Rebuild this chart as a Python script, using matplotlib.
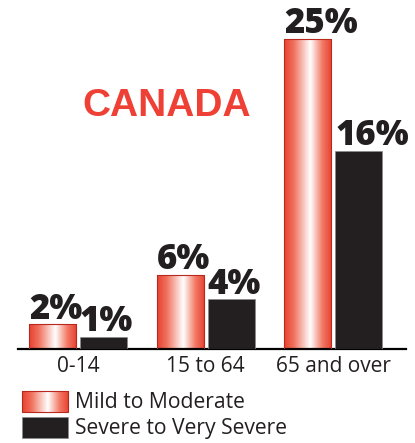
import numpy as np
import matplotlib
matplotlib.use("Agg")
import matplotlib.pyplot as plt
from matplotlib.colors import LinearSegmentedColormap
from matplotlib.patches import Rectangle

# Data
age_groups = ["0-14", "15 to 64", "65 and over"]
mild_to_moderate = [2, 6, 25]
severe_to_very_severe = [1, 4, 16]
series_names = ["Mild to Moderate", "Severe to Very Severe"]
title_text = "CANADA"

W, H = 415, 443
fig = plt.figure(figsize=(W / 100, H / 100), dpi=100)

RED = "#e8402f"
DARK = "#231f20"
grad_cmap = LinearSegmentedColormap.from_list(
    "shine", [(0.0, RED), (0.2, "#f0705c"), (0.55, "#ffffff"), (0.8, "#f27a66"), (1.0, RED)]
)
gradient = np.linspace(0, 1, 256).reshape(1, -1)

# Main axes in figure fractions
ax_left, ax_right = 18 / W, 406 / W
ax_bottom = (H - 349) / H
ax = fig.add_axes([ax_left, ax_bottom, ax_right - ax_left, 1 - ax_bottom])
XLIM = (-0.47, 2.57)
YLIM = (0, 25 * 349 / 310)

x = np.arange(len(age_groups))
width = 0.369
offset = 0.2

mild_bars = ax.bar(x - offset, mild_to_moderate, width, facecolor="none",
                   edgecolor="#b8281c", linewidth=0.8, zorder=3)
sev_bars = ax.bar(x + offset, severe_to_very_severe, width, color=DARK,
                  edgecolor="#8a8a8a", linewidth=0.5, zorder=3)

# Shiny gradient fill clipped to each mild bar
for bar in mild_bars:
    bx, by = bar.get_x(), bar.get_y()
    bw, bh = bar.get_width(), bar.get_height()
    im = ax.imshow(gradient, cmap=grad_cmap, aspect="auto",
                   extent=[bx, bx + bw, by, by + bh], zorder=2,
                   interpolation="bicubic")
    im.set_clip_path(bar)
ax.set_xlim(*XLIM)
ax.set_ylim(*YLIM)

# Value labels sit above each bar, starting near its left edge
label_font = dict(family=["Open Sans", "DejaVu Sans"], fontweight=800,
                  fontsize=25, color=DARK)
for bars, vals in ((mild_bars, mild_to_moderate), (sev_bars, severe_to_very_severe)):
    for bar, v in zip(bars, vals):
        ax.annotate(f"{v}%", (bar.get_x(), v),
                    xytext=(0, -2.5), textcoords="offset points",
                    ha="left", va="bottom", zorder=4, **label_font)

ax.set_xticks(x)
ax.set_xticklabels(age_groups, family=["Open Sans", "DejaVu Sans"],
                   fontsize=15, color=DARK)
ax.tick_params(axis="x", length=0, pad=5)
ax.set_yticks([])
for side in ("top", "left", "right"):
    ax.spines[side].set_visible(False)
ax.spines["bottom"].set_linewidth(1.6)
ax.spines["bottom"].set_color("black")
ax.patch.set_alpha(0)

# Overlay in pixel coordinates for the title and legend
ov = fig.add_axes([0, 0, 1, 1])
ov.axis("off")
ov.patch.set_alpha(0)

ov.text(167, 106, title_text, color="#ee4035", fontsize=28, fontweight="bold",
        family=["Liberation Sans", "DejaVu Sans"], ha="center", va="center")

leg_rows = [(391, 412), (417, 438)]
for (y0, y1), name, i in zip(leg_rows, series_names, range(2)):
    if i == 0:
        rect = Rectangle((22, y0), 46, y1 - y0, facecolor="none",
                         edgecolor="#b8281c", linewidth=0.8, zorder=3)
        ov.add_patch(rect)
        im = ov.imshow(gradient, cmap=grad_cmap, aspect="auto",
                       extent=[22, 68, y1, y0], zorder=2, interpolation="bicubic")
        im.set_clip_path(rect)
    else:
        ov.add_patch(Rectangle((22, y0), 46, y1 - y0, facecolor=DARK,
                               edgecolor="#8a8a8a", linewidth=0.5))
    ov.text(75, (y0 + y1) / 2 + 1, name, fontsize=15.2, color=DARK,
            family=["Open Sans", "DejaVu Sans"], ha="left", va="center")
ov.set_xlim(0, W)
ov.set_ylim(H, 0)

fig.savefig("out.png", dpi=100, facecolor="white")
